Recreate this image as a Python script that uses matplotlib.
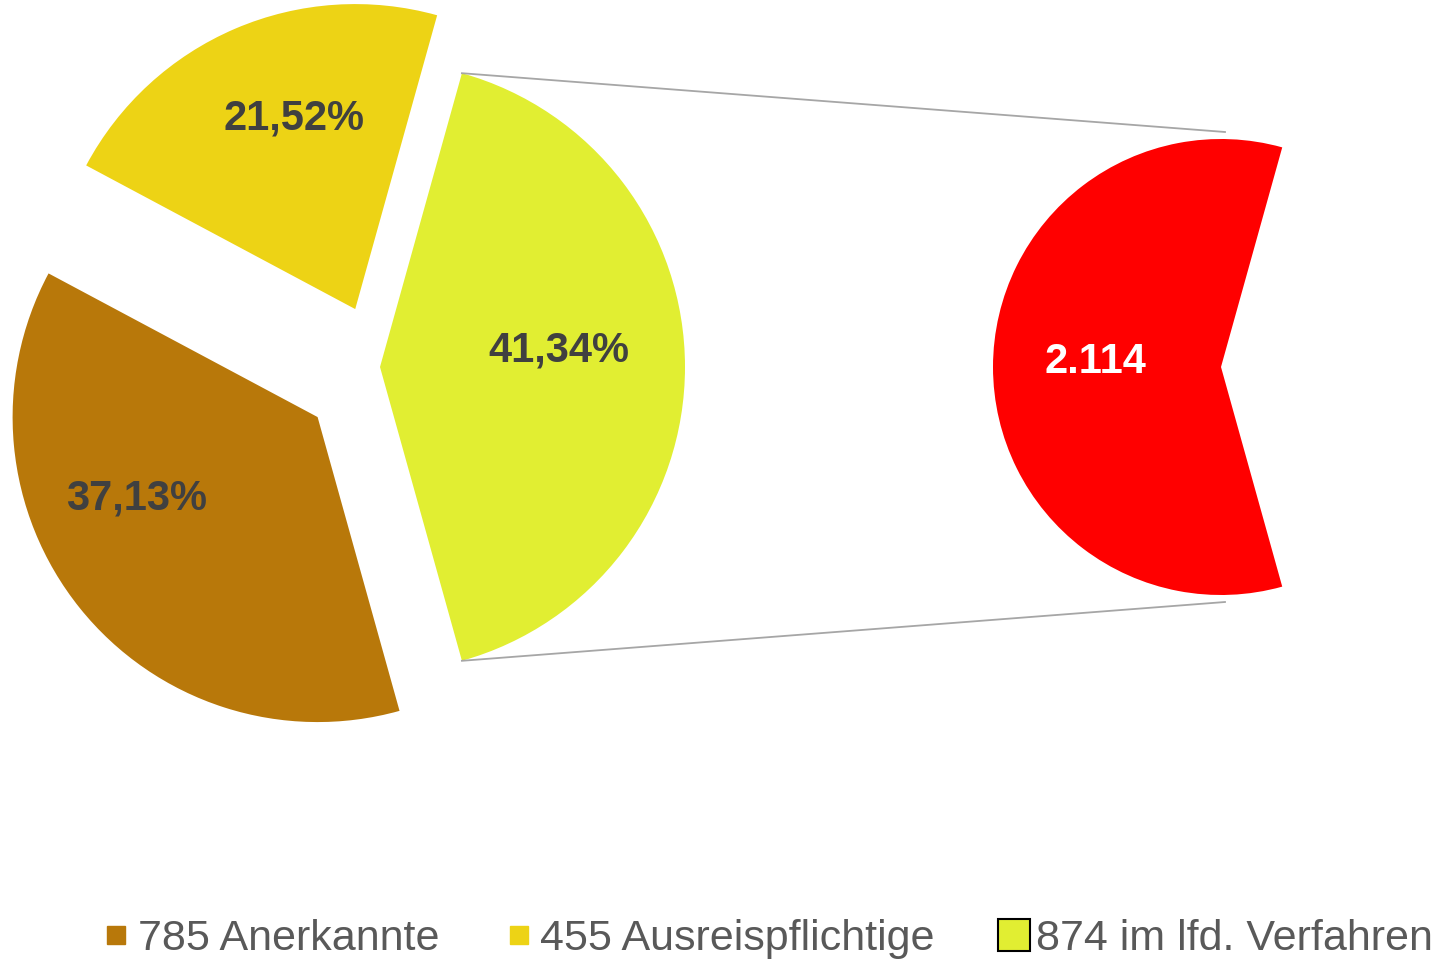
import numpy as np
import matplotlib.pyplot as plt
from matplotlib.lines import Line2D

plt.rcParams['font.family'] = ['Liberation Sans', 'DejaVu Sans']

# Daten
labels = ['785 Anerkannte', '455 Ausreispflichtige', '874 im lfd. Verfahren']
values = [785, 455, 874]
colors = ['#B8780A', '#EDD315', '#E1EE32']
second_values = [785 + 455, 874]  # roter Teil, Lücke
second_colors = ['#FF0000', 'none']

total = sum(values)

fig = plt.figure(figsize=(14.44, 9.6), dpi=100)
ax = fig.add_axes([0, 0, 1, 1])

# Geometrie (Pixel)
c1 = (380, 593)
r1 = 305
c2 = (1221, 593)
r2 = 228
explode = [80, 63, 0]

gap = values[2] / total * 360
start = gap / 2 + (values[0] + values[1]) / total * 360

wedges, texts, autotexts = ax.pie(
    values, colors=colors, explode=explode, center=c1, radius=r1,
    startangle=start, counterclock=False,
    autopct=lambda p: f'{p:.2f}%'.replace('.', ','),
    textprops=dict(fontsize=30, fontweight='bold', color='#404040'),
    wedgeprops=dict(linewidth=0))

label_pos = [(137, 960 - 498), (294, 960 - 119), (559, 960 - 350)]
for t, pos in zip(autotexts, label_pos):
    t.set_position(pos)

ax.pie(second_values, colors=second_colors, center=c2, radius=r2,
       startangle=gap / 2, wedgeprops=dict(linewidth=0))
ax.text(1095, 960 - 362, f'{total:,}'.replace(',', '.'), fontsize=30,
        fontweight='bold', color='white', ha='center', va='center')

# Verbindungslinien
a = np.deg2rad(gap / 2)
for s in (1, -1):
    x0 = c1[0] + r1 * np.cos(a)
    y0 = c1[1] + s * r1 * np.sin(a)
    ax.plot([x0, c2[0] + 4], [y0, c2[1] + s * (r2 + 7)], color='#A6A6A6', lw=1.3)

ax.set_xlim(0, 1444)
ax.set_ylim(0, 960)
ax.set_aspect('equal')
ax.axis('off')

handles = [
    Line2D([], [], marker='s', ls='none', markersize=13, markerfacecolor=colors[0], markeredgecolor=colors[0]),
    Line2D([], [], marker='s', ls='none', markersize=13, markerfacecolor=colors[1], markeredgecolor=colors[1]),
    Line2D([], [], marker='s', ls='none', markersize=23, markerfacecolor=colors[2], markeredgecolor='black', markeredgewidth=1.5),
]
fig.legend(handles, labels, loc='center', bbox_to_anchor=(768 / 1444, 21 / 960),
           ncol=3, frameon=False, fontsize=31, labelcolor='#595959',
           handlelength=0.6, handletextpad=0.2, columnspacing=1.55, borderaxespad=0)

fig.savefig('out.png', dpi=100)
